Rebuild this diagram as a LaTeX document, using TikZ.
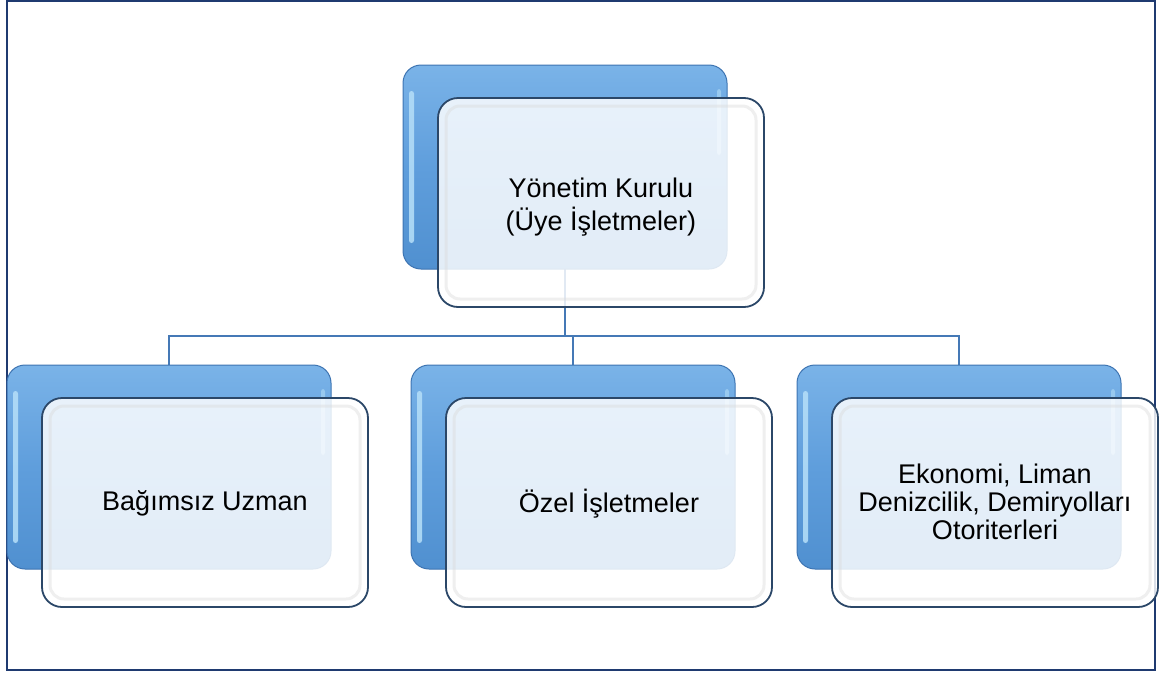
\documentclass[tikz,border=0pt]{standalone}
\usepackage{fontspec}
\setmainfont{Liberation Sans}
\usetikzlibrary{calc}
\pgfdeclarelayer{bg}
\pgfsetlayers{bg,main}
\definecolor{navy}{HTML}{1F3A70}
\definecolor{conncol}{HTML}{4579B6}
\definecolor{blueTop}{HTML}{7AB3E8}
\definecolor{blueMid}{HTML}{5F9EDC}
\definecolor{blueBot}{HTML}{5090D0}
\definecolor{blueEdge}{HTML}{3D74B2}
\definecolor{frontEdge}{HTML}{2B4768}
\definecolor{glint}{HTML}{B2DCF7}
\tikzset{
 backbox/.style={draw=blueEdge, line width=1pt, rounded corners=18pt, top color=blueTop, bottom color=blueBot, middle color=blueMid, minimum width=324pt, minimum height=204pt, inner sep=0pt, outer sep=0pt},
 frontbox/.style={draw=frontEdge, line width=1.8pt, rounded corners=20pt, fill=white, fill opacity=0.84, text opacity=1, minimum width=326pt, minimum height=209pt, inner sep=0pt, outer sep=0pt, align=center},
 conn/.style={draw=conncol, line width=2pt},
 bevel/.style={draw=black!14, line width=3pt, rounded corners=14pt, draw opacity=0.45},
 glintbar/.style={fill=glint, rounded corners=2.5pt, fill opacity=0.9},
 frame/.style={draw=navy, line width=2pt},
}
\newcommand\orgunit[6]{%
 \node[backbox] (#1b) at (#2+162,#3+102) {};
 \fill[glintbar] (#2+6,#3+26) rectangle (#2+11,#3+178);
 \fill[glintbar, fill opacity=0.6] (#2+314,#3+24) rectangle (#2+318,#3+90);
 \node[frontbox, font=\fontsize{27}{#4}\selectfont] (#1f) at (#2+198,#3+137.5) {};
 \draw[bevel] ($(#1f.north west)+(8,8)$) rectangle ($(#1f.south east)+(-8,-8)$);
 \node[align=center, font=\fontsize{27}{#4}\selectfont, inner sep=0pt] (#1t) at ($(#1f.center)+(0,#5)$) {#6};
}
\begin{document}
\begin{tikzpicture}[x=1pt,y=-1pt]
\useasboundingbox (0,0) rectangle (1159,675);
\orgunit{top}{403}{65}{33}{5}{Yönetim Kurulu\\(Üye İşletmeler)}
\orgunit{left}{7}{365}{28}{1}{Bağımsız Uzman}
\orgunit{mid}{411}{365}{28}{1}{Özel İşletmeler}
\orgunit{right}{797}{365}{28}{-1}{Ekonomi, Liman\\Denizcilik, Demiryolları\\Otoriterleri}
\begin{pgfonlayer}{bg}
 \draw[frame] (7,1) rectangle (1155,670);
 \coordinate (junction) at (topb.south |- 0,336);
 \draw[conn] (topb.south) -- (junction);
 \draw[conn] (junction) -| (leftb.north);
 \draw[conn] (junction) -| (midb.north);
 \draw[conn] (junction) -| (rightb.north);
\end{pgfonlayer}
\end{tikzpicture}
\end{document}
